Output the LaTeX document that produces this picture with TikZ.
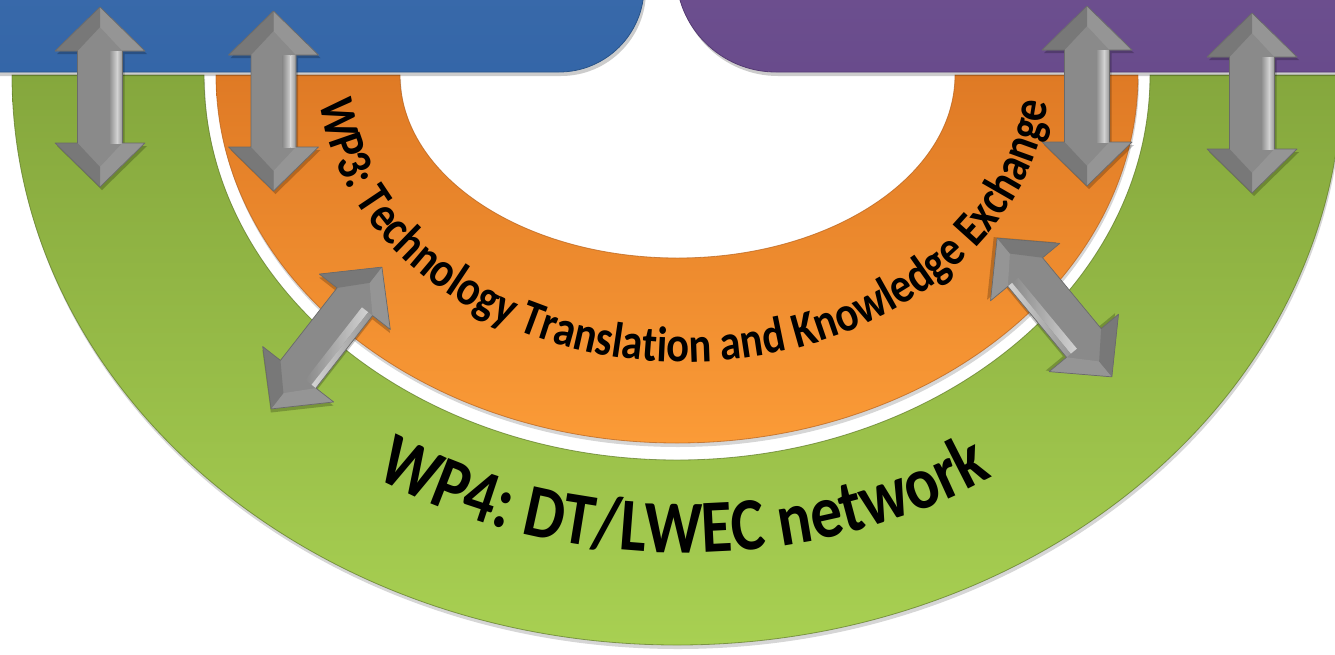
\documentclass[tikz,border=0pt]{standalone}
\usepackage{fontspec}
\newfontfamily\wpfont{Carlito}[FakeStretch=0.85]
\usetikzlibrary{decorations.text}
\definecolor{wpblue}{HTML}{3466A8}
\definecolor{wpbluedark}{HTML}{2A5488}
\definecolor{wppurple}{HTML}{694B8C}
\definecolor{wppurpledark}{HTML}{553B73}
\definecolor{greentop}{HTML}{85A73D}
\definecolor{greenbot}{HTML}{A8D052}
\definecolor{greenedge}{HTML}{5F7A28}
\definecolor{orangetop}{HTML}{DF7A25}
\definecolor{orangebot}{HTML}{FB9B37}
\definecolor{orangeedge}{HTML}{B8621C}
\definecolor{arrowgray}{HTML}{8A8A8A}
\definecolor{arrowmid}{HTML}{959595}
\definecolor{arrowdark}{HTML}{6A6A6A}
\definecolor{arrowlight}{HTML}{D2D2D2}
\def\arrowpath{(0,90) -- (45,46) -- (22.5,46) -- (22.5,-46) -- (45,-46) -- (0,-90) -- (-45,-46) -- (-22.5,-46) -- (-22.5,46) -- (-45,46) -- cycle}
\def\greenring{(12,-75) arc[start angle=180, end angle=360, x radius=665, y radius=570] -- (1150,-75) arc[start angle=0, end angle=-180, x radius=473, y radius=385] -- cycle}
\def\orangering{(216,-75) arc[start angle=180, end angle=360, x radius=461, y radius=368] -- (955,-75) arc[start angle=0, end angle=-180, x radius=277.5, y radius=183] -- cycle}
\tikzset{
  dblarrow/.pic={
    \begin{scope}[shift={(2,-3)}]
      \fill[black,opacity=0.22] \arrowpath;
    \end{scope}
    \fill[arrowgray] \arrowpath;
    % head facets (top)
    \fill[arrowmid] (0,90) -- (45,46) -- (22.5,46) -- (0,70) -- cycle;
    \fill[arrowdark!55!arrowgray] (-45,46) -- (-22.5,46) -- (0,70) -- (0,90) -- cycle;
    % head facets (bottom)
    \fill[arrowmid] (0,-90) -- (45,-46) -- (22.5,-46) -- (0,-70) -- cycle;
    \fill[arrowdark!55!arrowgray] (-45,-46) -- (-22.5,-46) -- (0,-70) -- (0,-90) -- cycle;
    % shaft highlight
    \shade[left color=arrowgray, right color=arrowlight] (9,46) rectangle (17,-46);
    \shade[left color=arrowlight, right color=arrowmid] (17,46) rectangle (22.5,-46);
    \draw[arrowdark, line width=0.7, line join=round] \arrowpath;
  }
}
\begin{document}
\begin{tikzpicture}[x=1pt,y=1pt]
\useasboundingbox (0,0) rectangle (1335,-654);
\clip (0,0) rectangle (1335,-654);
% ring shadows
\begin{scope}[shift={(1,-4)}]
  \fill[black,opacity=0.16] \greenring;
  \fill[black,opacity=0.16] \orangering;
\end{scope}
% green ring (WP4)
\shade[top color=greentop, bottom color=greenbot] \greenring;
\draw[greenedge, line width=0.8, opacity=0.7] \greenring;
% orange ring (WP3)
\shade[top color=orangetop, bottom color=orangebot] \orangering;
\draw[orangeedge, line width=0.8, opacity=0.7] \orangering;
% top bars with shadow
\fill[black,opacity=0.2, rounded corners=85] (-100,120) rectangle (646,-76);
\fill[black,opacity=0.2, rounded corners=100] (678,120) rectangle (1500,-76);
\shade[top color=wpblue!95!white, bottom color=wpblue, rounded corners=85] (-100,120) rectangle (644,-72);
\draw[wpbluedark, line width=0.8, rounded corners=85] (-100,120) rectangle (644,-72);
\shade[top color=wppurple!95!white, bottom color=wppurple, rounded corners=100] (676,120) rectangle (1500,-72);
\draw[wppurpledark, line width=0.8, rounded corners=100] (676,120) rectangle (1500,-72);
% double arrows
\pic at (100,-97) {dblarrow};
\pic at (273.5,-101) {dblarrow};
\pic at (1087,-96) {dblarrow};
\pic at (1252,-103) {dblarrow};
\pic[rotate=-38] at (326.5,-338) {dblarrow};
\pic[rotate=-140.4] at (1054.5,-307.5) {dblarrow};
% curved texts
\path[decorate, decoration={text along path, text align=center,
  text={|\wpfont\bfseries\fontsize{50}{56}\selectfont|WP3: Technology Translation and Knowledge Exchange}}]
  (319,-75) arc[start angle=180, end angle=360, x radius=365, y radius=287];
\path[decorate, decoration={text along path, text align=center,
  text={|\wpfont\bfseries\fontsize{75}{84}\selectfont|WP4: DT/LWEC network}}]
  (114,-75) arc[start angle=180, end angle=360, x radius=570, y radius=478];
\end{tikzpicture}
\end{document}
